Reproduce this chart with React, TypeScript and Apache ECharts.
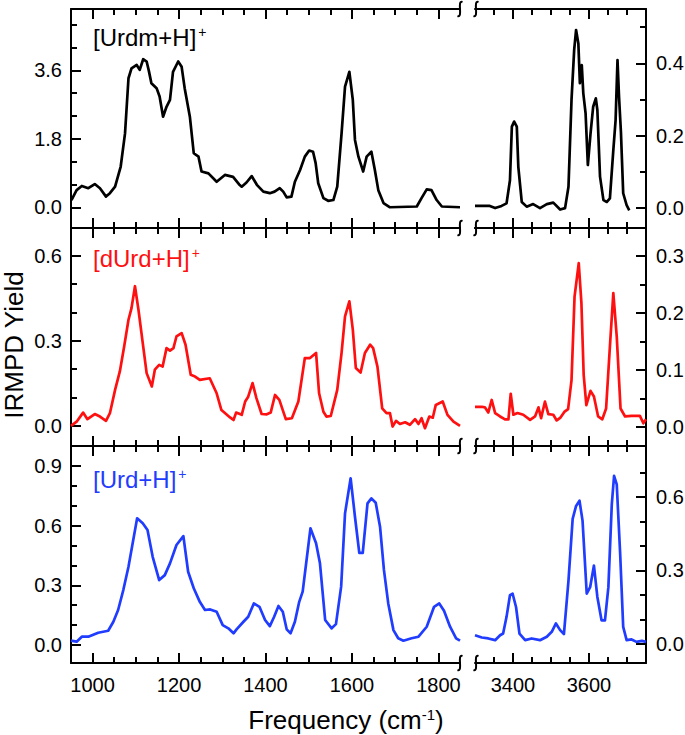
import React, { useEffect, useRef } from 'react';
import * as echarts from 'echarts';

const FONT = '"Liberation Sans", Arial, Helvetica, sans-serif';
const BLACK = '#000000';
const RED = '#ff1010';
const BLUE = '#1f3cff';

// x-axis ranges / ticks
const leftRange = [950, 1850];
const rightRange = [3300, 3750];
const leftXMajor = [1000, 1200, 1400, 1600, 1800];
const leftXMinor = [1050, 1100, 1150, 1250, 1300, 1350, 1450, 1500, 1550, 1650, 1700, 1750];
const rightXMajor = [3400, 3600];
const rightXMinor = [3350, 3450, 3500, 3550, 3650, 3700];

// y-axis ranges / ticks (per panel)
const urdmLeftRange = [-0.545, 5.21];
const urdmLeftMajor = [0, 1.8, 3.6];
const urdmLeftMinor = [0.6, 1.2, 2.4, 3.0, 4.2, 4.8];
const urdmRightRange = [-0.055, 0.55];
const urdmRightMajor = [0, 0.2, 0.4];
const urdmRightMinor = [0.1, 0.3, 0.5];
const durdLeftRange = [-0.0706, 0.697];
const durdLeftMajor = [0, 0.3, 0.6];
const durdLeftMinor = [0.1, 0.2, 0.4, 0.5];
const durdRightRange = [-0.034, 0.3497];
const durdRightMajor = [0, 0.1, 0.2, 0.3];
const durdRightMinor = [0.05, 0.15, 0.25];
const urdLeftRange = [-0.09, 0.999];
const urdLeftMajor = [0, 0.3, 0.6, 0.9];
const urdLeftMinor = [0.1, 0.2, 0.4, 0.5, 0.7, 0.8];
const urdRightRange = [-0.077, 0.807];
const urdRightMajor = [0, 0.3, 0.6];
const urdRightMinor = [0.1, 0.2, 0.4, 0.5, 0.7];

// spectra: [frequency, IRMPD yield]
const urdmLow = [[951,0.19],[963,0.45],[975,0.56],[990,0.50],[1005,0.61],[1017,0.50],[1031,0.28],[1040,0.37],[1052,0.54],[1065,1.07],[1075,1.94],[1083,3.39],[1090,3.65],[1102,3.74],[1109,3.61],[1117,3.89],[1125,3.83],[1130,3.59],[1136,3.26],[1148,3.13],[1155,2.91],[1163,2.38],[1171,2.64],[1179,2.82],[1186,3.56],[1198,3.83],[1206,3.69],[1213,3.13],[1225,2.38],[1234,1.42],[1245,1.33],[1252,0.94],[1268,0.89],[1287,0.67],[1306,0.85],[1325,0.80],[1339,0.60],[1345,0.54],[1356,0.65],[1368,0.82],[1380,0.59],[1395,0.41],[1410,0.37],[1421,0.41],[1433,0.50],[1441,0.41],[1449,0.26],[1460,0.28],[1468,0.67],[1480,0.98],[1491,1.33],[1501,1.49],[1510,1.46],[1516,1.16],[1522,0.63],[1534,0.24],[1545,0.17],[1557,0.19],[1566,0.54],[1576,1.94],[1584,3.17],[1594,3.56],[1602,2.82],[1607,1.77],[1615,1.33],[1626,0.94],[1634,1.33],[1645,1.46],[1653,0.98],[1661,0.45],[1673,0.11],[1688,0.0],[1750,0.02],[1761,0.24],[1773,0.47],[1784,0.45],[1796,0.19],[1808,0.02],[1850,0.0]];
const urdmHigh = [[3300,0.006],[3339,0.006],[3353,0],[3370,0.006],[3383,0.013],[3392,0.077],[3397,0.225],[3403,0.239],[3410,0.225],[3414,0.114],[3423,0.017],[3436,0.004],[3453,0.011],[3471,0],[3489,0.011],[3506,0.015],[3524,-0.004],[3537,0],[3546,0.059],[3554,0.299],[3561,0.437],[3566,0.492],[3572,0.455],[3576,0.345],[3581,0.395],[3585,0.317],[3591,0.262],[3597,0.119],[3604,0.206],[3611,0.280],[3618,0.303],[3622,0.271],[3629,0.087],[3638,0.022],[3647,0.017],[3655,0.027],[3664,0.16],[3670,0.243],[3675,0.409],[3679,0.308],[3684,0.211],[3690,0.041],[3699,0.008],[3706,-0.006]];
const durdLow = [[950,0],[963,0.015],[978,0.047],[988,0.024],[1005,0.042],[1017,0.033],[1031,0.018],[1040,0.045],[1052,0.127],[1063,0.192],[1073,0.28],[1083,0.374],[1090,0.415],[1098,0.492],[1106,0.41],[1117,0.28],[1125,0.186],[1137,0.139],[1144,0.198],[1154,0.215],[1162,0.209],[1171,0.274],[1179,0.265],[1187,0.274],[1194,0.315],[1206,0.327],[1215,0.286],[1227,0.18],[1237,0.174],[1248,0.162],[1271,0.168],[1287,0.115],[1298,0.056],[1318,0.03],[1326,0.021],[1332,0.047],[1345,0.039],[1353,0.086],[1360,0.103],[1370,0.151],[1379,0.098],[1391,0.042],[1403,0.041],[1412,0.047],[1422,0.109],[1432,0.092],[1447,0.024],[1461,0.027],[1476,0.086],[1491,0.239],[1503,0.239],[1517,0.257],[1524,0.115],[1534,0.05],[1541,0.033],[1551,0.035],[1566,0.127],[1576,0.257],[1584,0.386],[1594,0.439],[1602,0.339],[1609,0.204],[1620,0.188],[1630,0.257],[1642,0.286],[1649,0.274],[1659,0.209],[1670,0.062],[1680,0.045],[1688,0.045],[1694,-0.002],[1702,0.018],[1711,0.007],[1723,0.013],[1734,0.004],[1746,0.024],[1754,0.007],[1761,0.027],[1769,-0.008],[1779,0.033],[1787,0.029],[1794,0.074],[1810,0.086],[1821,0.039],[1835,0.015],[1850,0.0]];
const durdHigh = [[3300,0.035],[3318,0.035],[3326,0.034],[3335,0.025],[3344,0.047],[3353,0.024],[3366,0.018],[3379,0.013],[3388,0.013],[3394,0.058],[3401,0.021],[3412,0.024],[3427,0.021],[3445,0.012],[3458,0.018],[3467,0.034],[3474,0.015],[3484,0.044],[3493,0.022],[3506,0.021],[3515,0.011],[3525,0.016],[3535,0.026],[3545,0.031],[3554,0.082],[3562,0.229],[3573,0.288],[3580,0.218],[3586,0.091],[3593,0.038],[3604,0.063],[3613,0.053],[3624,0.018],[3635,0.013],[3645,0.032],[3655,0.141],[3664,0.235],[3673,0.159],[3683,0.032],[3695,0.018],[3712,0.019],[3734,0.019],[3743,0.006],[3750,0.013]];
const urdLow = [[950,0.022],[963,0.017],[975,0.042],[990,0.042],[1013,0.062],[1036,0.072],[1048,0.117],[1059,0.176],[1071,0.276],[1083,0.393],[1094,0.527],[1103,0.636],[1116,0.611],[1127,0.577],[1139,0.443],[1154,0.326],[1167,0.351],[1179,0.41],[1194,0.502],[1210,0.547],[1221,0.368],[1234,0.285],[1248,0.217],[1260,0.176],[1272,0.179],[1287,0.167],[1301,0.1],[1314,0.084],[1326,0.059],[1333,0.079],[1349,0.117],[1360,0.142],[1373,0.209],[1386,0.192],[1399,0.126],[1410,0.095],[1420,0.142],[1430,0.196],[1440,0.167],[1449,0.079],[1458,0.059],[1468,0.117],[1478,0.217],[1486,0.268],[1495,0.427],[1504,0.586],[1517,0.511],[1526,0.41],[1538,0.126],[1553,0.084],[1563,0.105],[1575,0.293],[1584,0.661],[1597,0.837],[1607,0.644],[1617,0.463],[1625,0.463],[1636,0.711],[1645,0.736],[1655,0.714],[1665,0.594],[1674,0.377],[1684,0.209],[1696,0.075],[1707,0.034],[1719,0.022],[1738,0.034],[1754,0.042],[1773,0.092],[1790,0.192],[1802,0.209],[1813,0.172],[1827,0.092],[1841,0.034],[1850,0.022]];
const urdHigh = [[3300,0.036],[3318,0.027],[3335,0.023],[3353,0.016],[3366,0.036],[3374,0.043],[3383,0.111],[3392,0.199],[3399,0.205],[3408,0.151],[3417,0.043],[3432,0.016],[3449,0.023],[3471,0.016],[3489,0.03],[3502,0.05],[3513,0.084],[3524,0.057],[3534,0.041],[3546,0.259],[3557,0.51],[3566,0.563],[3575,0.584],[3583,0.503],[3594,0.206],[3603,0.232],[3613,0.32],[3622,0.192],[3633,0.097],[3642,0.097],[3651,0.232],[3660,0.57],[3666,0.685],[3673,0.651],[3682,0.368],[3690,0.07],[3699,0.016],[3712,0.019],[3725,0.009],[3739,0.013],[3750,0.009]];

const labels = ['[Urdm+H]', '[dUrd+H]', '[Urd+H]'];
const labelColors = [BLACK, RED, BLUE];

function buildOption() {
  const rowsTop = [9, 228, 446];
  const rowsH = [219, 218, 217];
  const cols = [{ left: 71, width: 389 }, { left: 475, width: 171 }];
  const panels = [
    { data: urdmLow, color: BLACK, y: urdmLeftRange, yMaj: urdmLeftMajor, yMin: urdmLeftMinor },
    { data: urdmHigh, color: BLACK, y: urdmRightRange, yMaj: urdmRightMajor, yMin: urdmRightMinor },
    { data: durdLow, color: RED, y: durdLeftRange, yMaj: durdLeftMajor, yMin: durdLeftMinor },
    { data: durdHigh, color: RED, y: durdRightRange, yMaj: durdRightMajor, yMin: durdRightMinor },
    { data: urdLow, color: BLUE, y: urdLeftRange, yMaj: urdLeftMajor, yMin: urdLeftMinor },
    { data: urdHigh, color: BLUE, y: urdRightRange, yMaj: urdRightMajor, yMin: urdRightMinor },
  ];
  const grid: any[] = [];
  const xAxis: any[] = [];
  const yAxis: any[] = [];
  const series: any[] = [];
  const axisLineStyle = { color: '#000', width: 2 };
  const tickStyle = { color: '#000', width: 2 };
  panels.forEach((p, g) => {
    const row = Math.floor(g / 2);
    const side = g % 2;
    grid.push({
      left: cols[side].left, width: cols[side].width, top: rowsTop[row], height: rowsH[row],
      containLabel: false, outerBoundsMode: 'none',
    });
    const xr = side === 0 ? leftRange : rightRange;
    const xMaj = side === 0 ? leftXMajor : rightXMajor;
    const xMin = side === 0 ? leftXMinor : rightXMinor;
    (['bottom', 'top'] as const).forEach((pos) => {
      xAxis.push({
        type: 'value', gridIndex: g, position: pos, min: xr[0], max: xr[1],
        axisLine: { show: true, onZero: false, lineStyle: axisLineStyle },
        axisTick: { show: true, inside: true, length: 10, customValues: xMaj, lineStyle: tickStyle },
        axisLabel: {
          show: pos === 'bottom' && row === 2, customValues: xMaj, margin: 12,
          color: '#000', fontSize: 20, fontFamily: FONT, formatter: (v: number) => String(v),
        },
        splitLine: { show: false },
      });
      xAxis.push({
        type: 'value', gridIndex: g, position: pos, min: xr[0], max: xr[1],
        axisLine: { show: false, onZero: false },
        axisTick: { show: true, inside: true, length: 6, customValues: xMin, lineStyle: tickStyle },
        axisLabel: { show: false },
        splitLine: { show: false },
      });
    });
    const ypos = side === 0 ? 'left' : 'right';
    yAxis.push({
      type: 'value', gridIndex: g, position: ypos, min: p.y[0], max: p.y[1],
      axisLine: { show: true, onZero: false, lineStyle: axisLineStyle },
      axisTick: { show: true, inside: true, length: 10, customValues: p.yMaj, lineStyle: tickStyle },
      axisLabel: {
        show: true, customValues: p.yMaj, margin: side === 0 ? 9 : 10,
        color: '#000', fontSize: 20, fontFamily: FONT, formatter: (v: number) => v.toFixed(1),
      },
      splitLine: { show: false },
    });
    yAxis.push({
      type: 'value', gridIndex: g, position: ypos, min: p.y[0], max: p.y[1],
      axisLine: { show: false, onZero: false },
      axisTick: { show: true, inside: true, length: 6, customValues: p.yMin, lineStyle: tickStyle },
      axisLabel: { show: false },
      splitLine: { show: false },
    });
    series.push({
      type: 'line', xAxisIndex: g * 4, yAxisIndex: g * 2, data: p.data,
      showSymbol: false, symbol: 'none', clip: true,
      lineStyle: { width: 2.7, color: p.color, join: 'round' }, itemStyle: { color: p.color },
    });
  });

  const graphic: any[] = [];
  // axis-break squiggles
  const breakYs = [9, 228, 446, 663];
  const breakXs = [460, 476];
  breakYs.forEach((by) => {
    breakXs.forEach((bx) => {
      graphic.push({
        type: 'bezierCurve',
        shape: { x1: bx + 2.5, y1: by - 7, cpx1: bx - 3.5, cpy1: by - 9, cpx2: bx + 3.5, cpy2: by + 9, x2: bx - 2.5, y2: by + 7 },
        style: { stroke: '#000', lineWidth: 2, fill: 'none' },
        z: 100,
      });
    });
  });
  const labelYs = [37, 258, 479];
  labels.forEach((t, i) => {
    graphic.push({
      type: 'text', x: 93, y: labelYs[i], z: 100,
      style: {
        text: `{a|${t}}{b|+}`,
        textAlign: 'left', textVerticalAlign: 'middle',
        rich: {
          a: { fontSize: 24, fontFamily: FONT, fill: labelColors[i] },
          b: { fontSize: 14, fontFamily: FONT, fill: labelColors[i], verticalAlign: 'top', padding: [0, 0, 0, 2] },
        },
      },
    });
  });
  graphic.push({
    type: 'text', x: 14, y: 345, rotation: Math.PI / 2, z: 100,
    style: { text: 'IRMPD Yield', fontSize: 26, fontFamily: FONT, fill: '#000', textAlign: 'center', textVerticalAlign: 'middle' },
  });
  graphic.push({
    type: 'text', x: 346, y: 720, z: 100,
    style: {
      text: '{a|Frequency (cm}{b|-1}{a|)}',
      textAlign: 'center', textVerticalAlign: 'middle',
      rich: {
        a: { fontSize: 26, fontFamily: FONT, fill: '#000' },
        b: { fontSize: 15, fontFamily: FONT, fill: '#000', verticalAlign: 'top' },
      },
    },
  });

  return {
    animation: false,
    backgroundColor: '#ffffff',
    grid, xAxis, yAxis, series, graphic,
  };
}

export default function App() {
  const ref = useRef<HTMLDivElement>(null);
  useEffect(() => {
    if (!ref.current) return;
    const chart = echarts.init(ref.current, null, { renderer: 'svg' });
    chart.setOption(buildOption() as any);
    return () => chart.dispose();
  }, []);
  return (
    <div
      ref={ref}
      style={{ position: 'absolute', left: 0, top: 0, width: 685, height: 735, background: '#fff' }}
    />
  );
}
